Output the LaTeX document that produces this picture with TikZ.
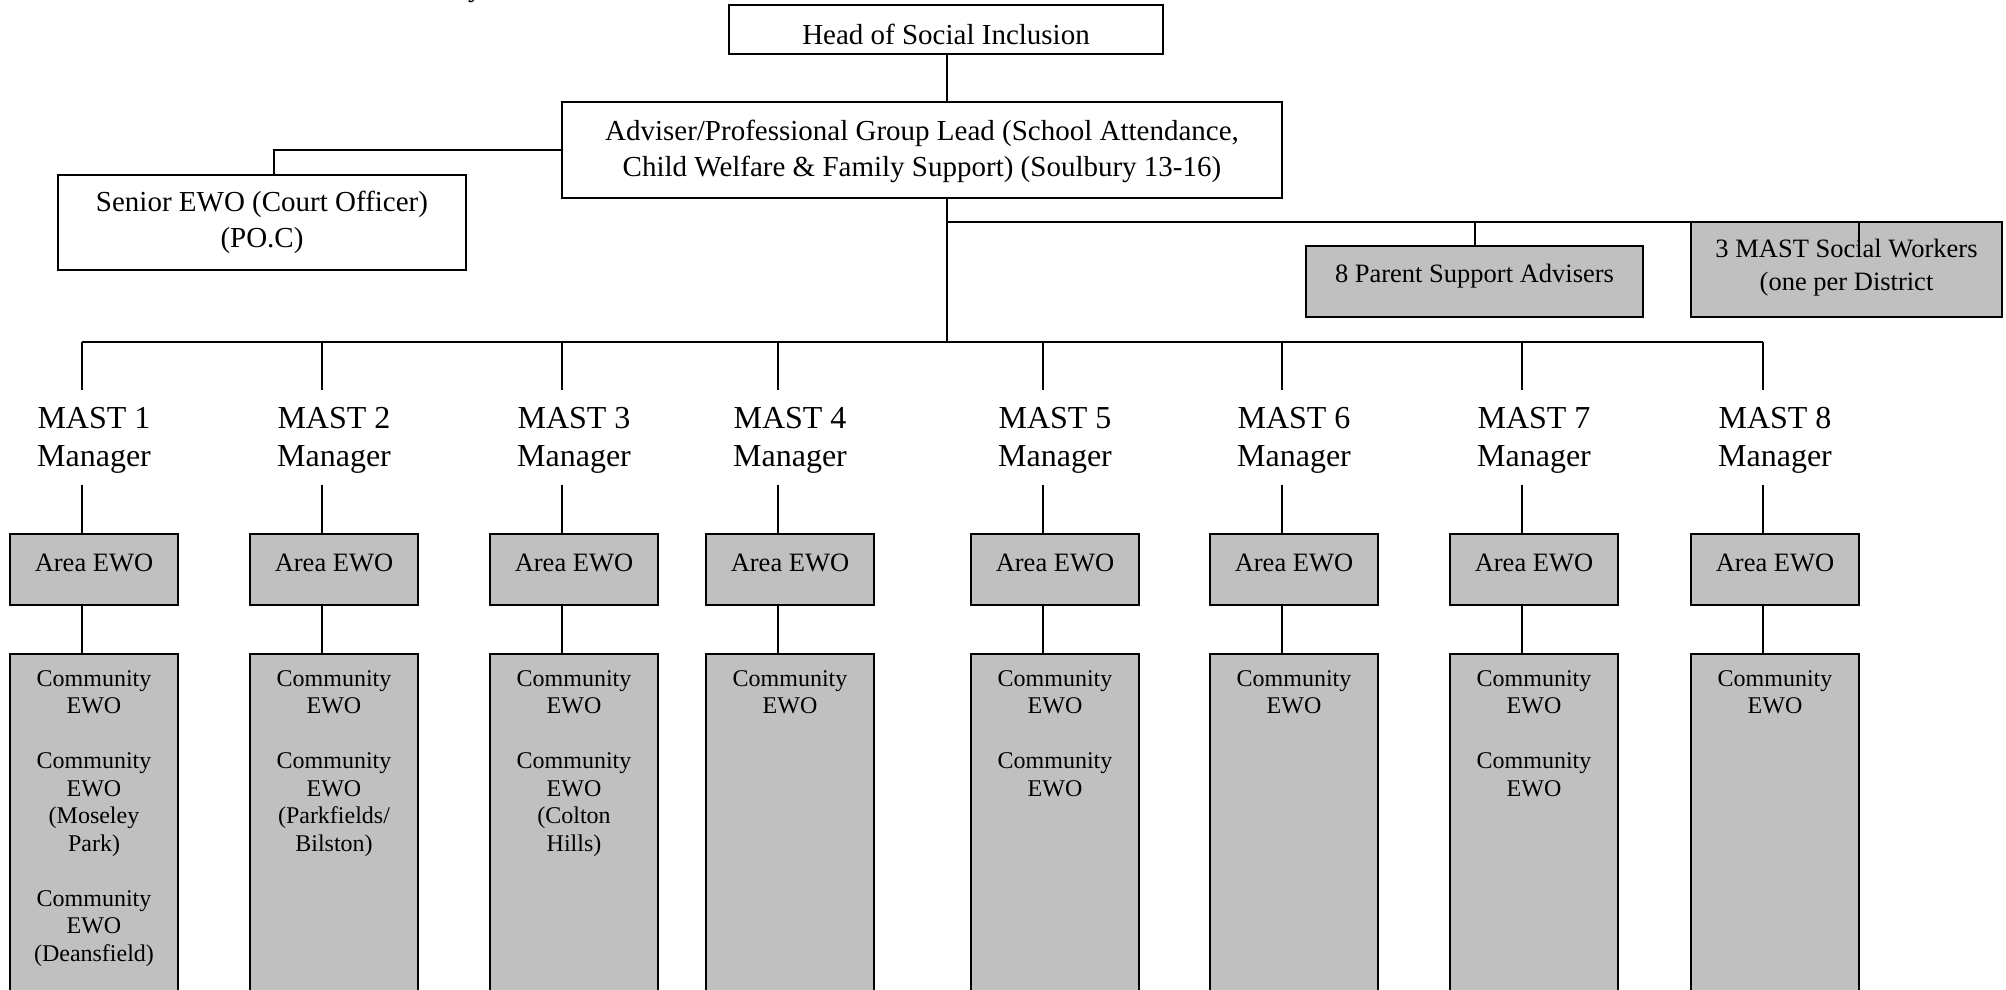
\documentclass[tikz,border=0pt]{standalone}
\usepackage{fontspec}
\setmainfont{Liberation Serif}
\definecolor{boxgray}{HTML}{C0C0C0}
\begin{document}
\begin{tikzpicture}[x=1pt,y=-1pt,
  conn/.style={line width=1.8pt},
  wbox/.style={draw,line width=1.8pt,fill=white,inner sep=0pt,rectangle},
  gbox/.style={draw,line width=1.8pt,fill=boxgray,inner sep=0pt,rectangle},
  tbig/.style={font=\fontsize{29}{36}\selectfont,align=center,inner sep=0pt},
  tmast/.style={font=\fontsize{32}{38}\selectfont,align=center,inner sep=0pt},
  tmid/.style={font=\fontsize{26.5}{33}\selectfont,align=center,inner sep=0pt},
  tcom/.style={font=\fontsize{24}{27.5}\selectfont,align=center,inner sep=0pt,anchor=north}]
\useasboundingbox (0,0) rectangle (2006,990);

% cut-off text fragment at top
\node[font=\fontsize{29}{36}\selectfont,inner sep=0pt,anchor=base west] (frag) at (468,-3.5) {y};

% top boxes
\node[wbox,minimum width=434pt,minimum height=49pt] (head) at (946,29.5) {};
\node[tbig] (headt) at (946,34.5) {Head of Social Inclusion};

\node[wbox,minimum width=720pt,minimum height=96pt] (adv) at (922,150) {};
\node[tbig] (advt) at (922,151) {Adviser/Professional Group Lead (School Attendance,\\Child Welfare \& Family Support) (Soulbury 13-16)};

\node[wbox,minimum width=408pt,minimum height=95pt] (senior) at (262,222.5) {};
\node[tbig] (seniort) at (262,222.5) {Senior EWO (Court Officer)\\(PO.C)};

\node[gbox,minimum width=337pt,minimum height=71pt] (psa) at (1474.5,281.5) {};
\node[tmid] (psat) at (1474.5,276) {8 Parent Support Advisers};

\node[gbox,minimum width=311pt,minimum height=95pt] (msw) at (1846.5,269.5) {};
\node[tmid] (mswt) at (1846.5,268) {3 MAST Social Workers\\(one per District};

% junctions
\coordinate (hub) at (947,342);
\coordinate (rj) at (947,222);
\coordinate (sj) at (274,175);
\coordinate (swj) at (1859,222);
\coordinate (swt) at (1859,246);
\coordinate (psaj) at (1475,222);

\draw[conn] (head.south -| hub) -- (adv.north -| hub);
\draw[conn] (adv.west) -| (sj);
\draw[conn] (adv.south -| hub) -- (hub);
\draw[conn] (rj) -- (swj) -- (swt);
\draw[conn] (psaj) -- (psaj |- psa.north);

% MAST bus
\coordinate (top1) at (82,342);
\coordinate (top8) at (1763,342);
\draw[conn] (top1) -- (top8);

\foreach \i/\cx in {1/82,2/322,3/562,4/778,5/1043,6/1282,7/1522,8/1763}{
  \coordinate (top\i) at (\cx,342);
  \node[tmast] (mgr\i) at (\cx+12,440) {MAST \i\\Manager};
  \node[gbox,minimum width=168pt,minimum height=71pt] (area\i) at (\cx+12,569.5) {};
  \node[tmid] (areat\i) at (\cx+12,563) {Area EWO};
  \node[gbox,minimum width=168pt,minimum height=346pt] (com\i) at (\cx+12,827) {};
  \draw[conn] (top\i) -- ++(0,48);
  \draw[conn] (area\i.north -| top\i) -- ++(0,-48);
  \draw[conn] (area\i.south -| top\i) -- (com\i.north -| top\i);
}

% community texts
\node[tcom] (ct1) at ([yshift=-17pt]com1.north) {Community\\EWO\\[27.5pt]Community\\EWO\\(Moseley\\Park)\\[27.5pt]Community\\EWO\\(Deansfield)};
\node[tcom] (ct2) at ([yshift=-17pt]com2.north) {Community\\EWO\\[27.5pt]Community\\EWO\\(Parkfields/\\Bilston)};
\node[tcom] (ct3) at ([yshift=-17pt]com3.north) {Community\\EWO\\[27.5pt]Community\\EWO\\(Colton\\Hills)};
\node[tcom] (ct4) at ([yshift=-17pt]com4.north) {Community\\EWO};
\node[tcom] (ct5) at ([yshift=-17pt]com5.north) {Community\\EWO\\[27.5pt]Community\\EWO};
\node[tcom] (ct6) at ([yshift=-17pt]com6.north) {Community\\EWO};
\node[tcom] (ct7) at ([yshift=-17pt]com7.north) {Community\\EWO\\[27.5pt]Community\\EWO};
\node[tcom] (ct8) at ([yshift=-17pt]com8.north) {Community\\EWO};
\end{tikzpicture}
\end{document}
